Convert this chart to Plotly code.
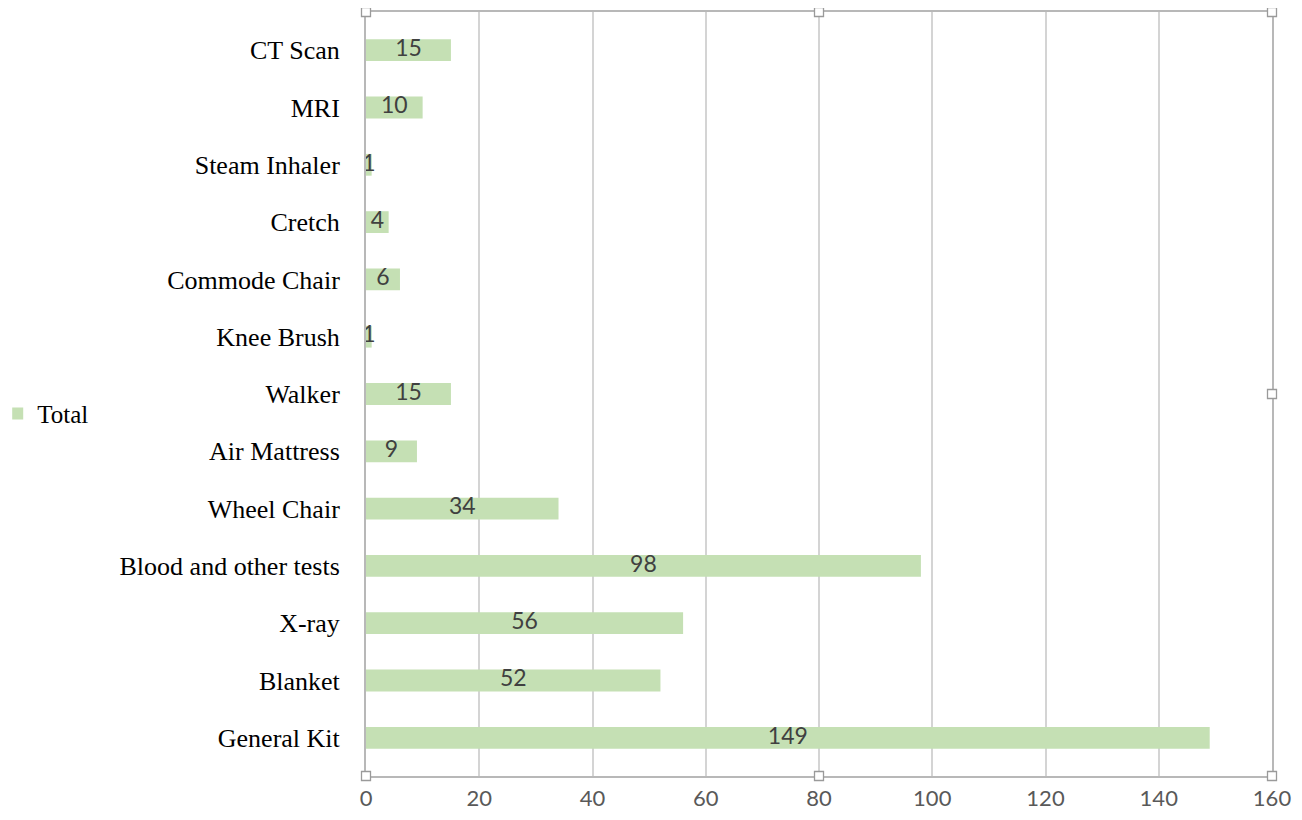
import plotly.graph_objects as go

categories = ["General Kit", "Blanket", "X-ray", "Blood and other tests", "Wheel Chair",
              "Air Mattress", "Walker", "Knee Brush", "Commode Chair", "Cretch",
              "Steam Inhaler", "MRI", "CT Scan"]
values = [149, 52, 56, 98, 34, 9, 15, 1, 6, 4, 1, 10, 15]
x_ticks = [0, 20, 40, 60, 80, 100, 120, 140, 160]

bar_color = "#c5e0b4"

fig = go.Figure()
fig.add_trace(go.Bar(
    x=values, y=categories, orientation="h", name="Total",
    marker=dict(color=bar_color, line=dict(width=0)), width=0.38,
))
fig.add_trace(go.Scatter(
    x=[v / 2 for v in values], y=categories, mode="text",
    text=[str(v) for v in values], textposition="middle center",
    textfont=dict(family="Lato", size=23, color="#404040"),
    showlegend=False, hoverinfo="skip", cliponaxis=False,
))

# selection handles on the plot area frame
handles = [(0, 0), (0.5, 0), (1, 0), (1, 0.5), (0, 1), (0.5, 1), (1, 1)]
shapes = []
for hx, hy in handles:
    shapes.append(dict(
        type="rect", xref="paper", yref="paper",
        xsizemode="pixel", ysizemode="pixel", xanchor=hx, yanchor=hy,
        x0=-4.5, x1=4.5, y0=-4.5, y1=4.5,
        line=dict(color="#9a9a9a", width=1.3), fillcolor="white", layer="above",
    ))

fig.update_layout(
    width=1286, height=804,
    margin=dict(l=355, r=22, t=4, b=36),
    paper_bgcolor="white", plot_bgcolor="white",
    showlegend=True,
    legend=dict(x=-0.3905, y=0.474, xanchor="left", yanchor="middle",
                font=dict(family="Liberation Serif", size=25, color="#000000"),
                itemwidth=30, indentation=-15),
    xaxis=dict(range=[0, 160], tickvals=x_ticks, showgrid=True, gridcolor="#d4d4d4",
               gridwidth=1.5, zeroline=False, showline=True, linecolor="#b8b8b8",
               linewidth=2, mirror=True, ticks="", ticklabelstandoff=2, automargin=False,
               tickfont=dict(family="Lato", size=22, color="#595959")),
    yaxis=dict(showgrid=False, zeroline=False, showline=True, linecolor="#b8b8b8",
               linewidth=2, mirror=True, ticks="", ticklabelstandoff=19, automargin=False,
               categoryorder="array", categoryarray=categories,
               tickfont=dict(family="Liberation Serif", size=26, color="#000000")),
    shapes=shapes,
    bargap=0.6,
)

fig.write_html("out.html")
